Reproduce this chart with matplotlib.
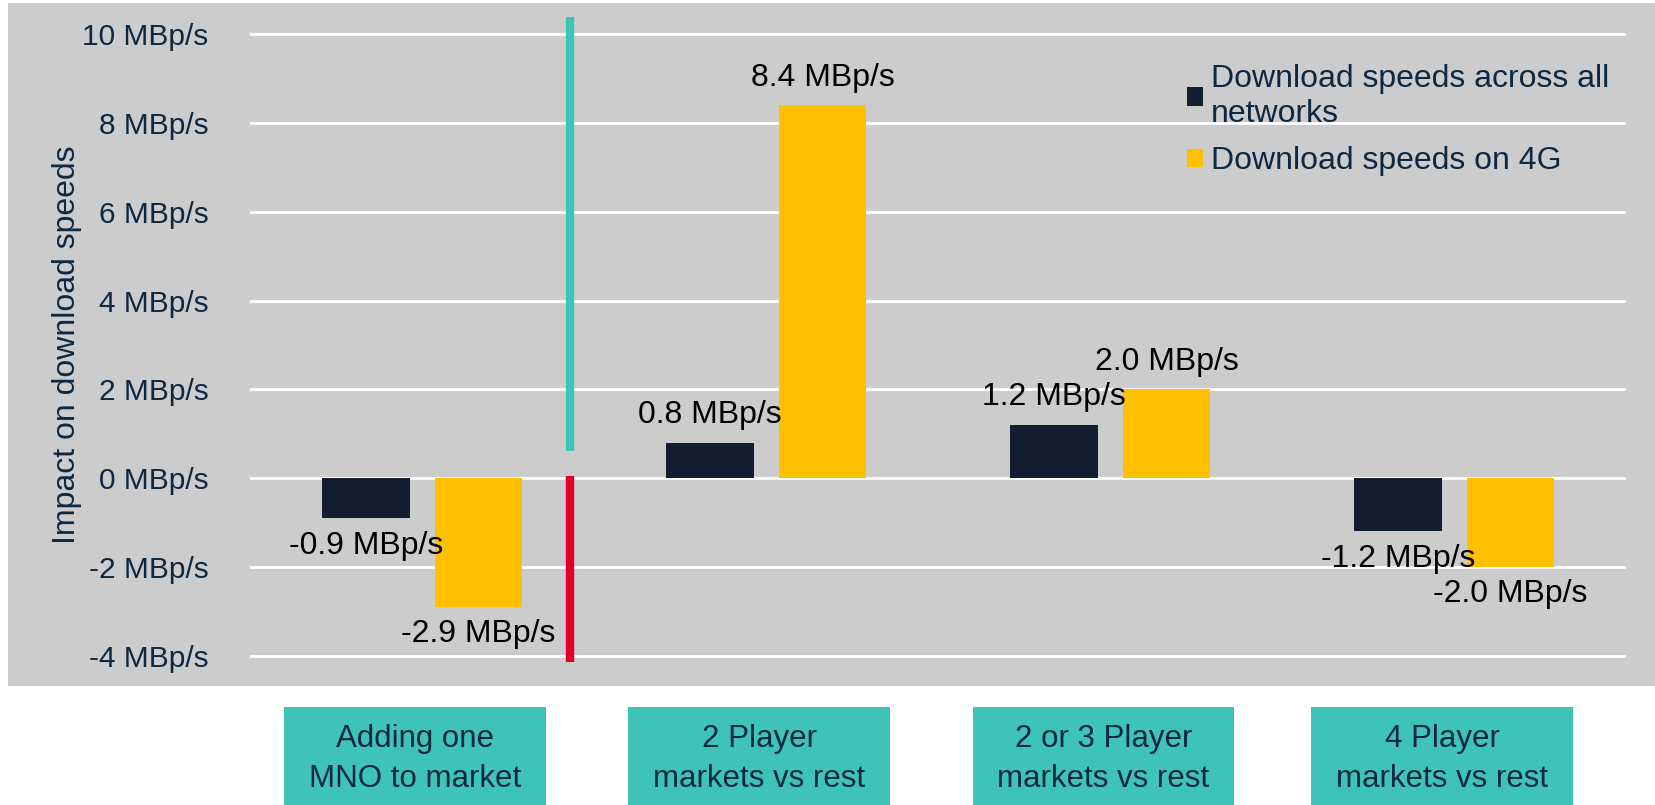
import matplotlib
matplotlib.use('Agg')
import matplotlib.pyplot as plt
import matplotlib.patches as mpatches
import matplotlib.transforms as mtransforms
import numpy as np

plt.rcParams['font.family'] = ['Liberation Sans', 'DejaVu Sans']

# data
categories = ['Adding one\nMNO to market', '2 Player\nmarkets vs rest',
              '2 or 3 Player\nmarkets vs rest', '4 Player\nmarkets vs rest']
all_networks = [-0.9, 0.8, 1.2, -1.2]
speeds_4g = [-2.9, 8.4, 2.0, -2.0]
series_names = ['Download speeds across all\nnetworks', 'Download speeds on 4G']
y_ticks = [-4, -2, 0, 2, 4, 6, 8, 10]
divider_x = 0.43
teal_span = (0.6, 10.4)
red_span = (0.05, -4.15)

navy = '#0E2841'
dark = '#131F30'
yellow = '#FFC000'
teal = '#3EC4B6'
red = '#E0002A'
gray = '#CCCCCC'

fig = plt.figure(figsize=(16.56, 8.05), dpi=100)
bg = mpatches.Rectangle((0.005, 0.148), 0.995, 0.848, transform=fig.transFigure,
                        facecolor=gray, edgecolor='none', linewidth=0, zorder=-10)
fig.patches.append(bg)
ax = fig.add_axes([0.151, 0.158, 0.831, 0.827])
ax.set_facecolor('none')

x = np.arange(len(categories))
w = 0.255
off = 0.164
b1 = ax.bar(x - off, all_networks, w, color=dark, label=series_names[0], zorder=3)
b2 = ax.bar(x + off, speeds_4g, w, color=yellow, label=series_names[1], zorder=3)

# value labels
for bars, vals in ((b1, all_networks), (b2, speeds_4g)):
    for rect, v in zip(bars, vals):
        cx = rect.get_x() + rect.get_width() / 2
        dy = 0.62 if v > 0 else -0.62
        ax.text(cx, v + dy, f'{v:.1f} MBp/s', ha='center', va='center',
                fontsize=23, color='black', zorder=5)

ax.set_xlim(-0.5, 3.5)
ax.set_ylim(-4.5, 10.5)
ax.set_yticks(y_ticks)
ax.set_yticklabels([f'{t} MBp/s' for t in y_ticks])
ax.set_xticks([])
ax.tick_params(axis='y', length=0, pad=30, labelsize=21.5, labelcolor=navy)
ax.grid(axis='y', color='white', linewidth=2, zorder=1)
ax.set_axisbelow(True)
for s in ax.spines.values():
    s.set_visible(False)

ax.set_ylabel('Impact on download speeds', fontsize=23, color=navy)
ax.yaxis.set_label_coords(-0.122, 0.5)

# divider lines
ax.vlines(divider_x, teal_span[0], teal_span[1], color=teal, linewidth=6, clip_on=False, zorder=4)
ax.vlines(divider_x, red_span[0], red_span[1], color=red, linewidth=6, clip_on=False, zorder=4)

# legend
leg = ax.legend(loc='upper left', bbox_to_anchor=(1171 / 1656, 1 - 48 / 805),
                bbox_transform=fig.transFigure, frameon=False, fontsize=23,
                handlelength=0.5, handleheight=0.5, handletextpad=0.25,
                labelspacing=0.55, borderpad=0)
for t in leg.get_texts():
    t.set_color(navy)

# category boxes below the plot
trans = mtransforms.blended_transform_factory(ax.transData, fig.transFigure)
box_w = 0.76
box_bottom = 0.0
box_h = 98 / 805
for i, cat in enumerate(categories):
    cx = i - 0.02 - 0.015 * (i == 3)
    ax.add_patch(mpatches.Rectangle((cx - box_w / 2, box_bottom), box_w, box_h,
                                    transform=trans, facecolor=teal, edgecolor='none',
                                    clip_on=False, zorder=2))
    ax.text(cx, box_bottom + box_h / 2 - 0.004, cat, transform=trans, ha='center', va='center',
            fontsize=22.5, color=navy, linespacing=1.45, clip_on=False)

fig.savefig('out.png', dpi=100)
